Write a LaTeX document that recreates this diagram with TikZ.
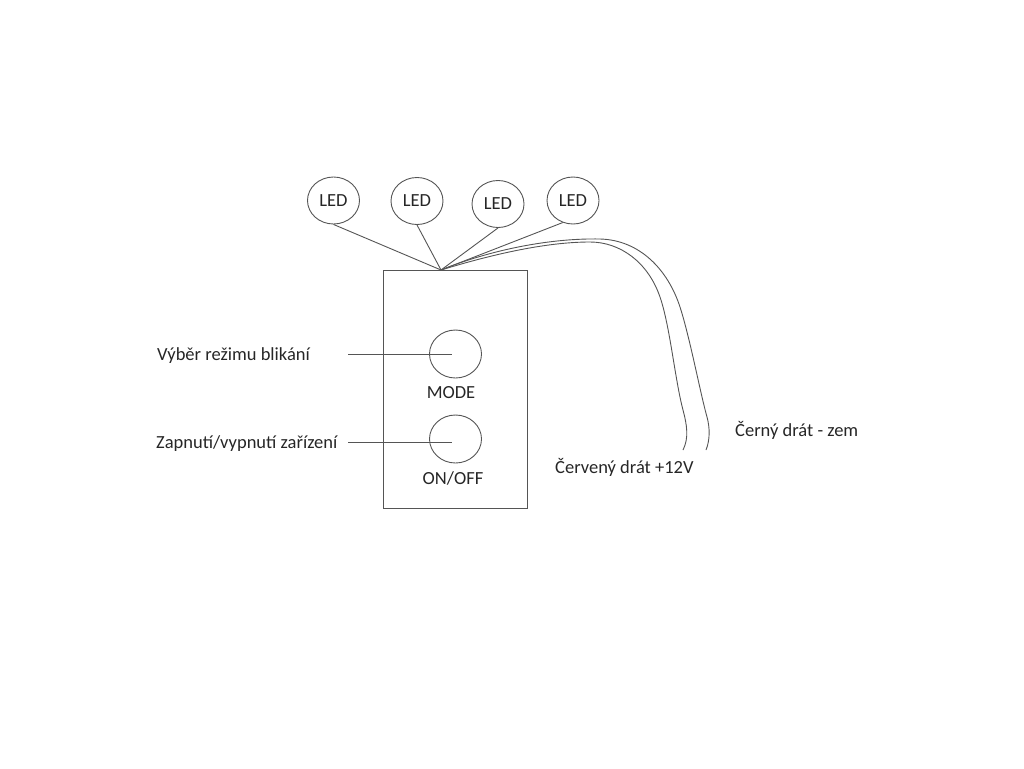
\documentclass[tikz,border=0pt]{standalone}
\usepackage{fontspec}
\setmainfont{Carlito}
\usetikzlibrary{shapes.geometric}
\definecolor{wire}{HTML}{555555}
\definecolor{ink}{HTML}{262626}
\tikzset{
  led/.style={ellipse, draw=wire, line width=0.9pt, inner sep=0pt, minimum width=52pt, minimum height=47pt, text=ink, font=\fontsize{18.5}{20}\selectfont},
  btn/.style={ellipse, draw=wire, line width=0.9pt, minimum width=52pt, minimum height=48pt},
  lbl/.style={text=ink, inner sep=0pt, font=\fontsize{18.5}{20}\selectfont},
  ln/.style={draw=wire, line width=0.9pt}
}
\begin{document}
\begin{tikzpicture}[x=1pt,y=-1pt]
\useasboundingbox (0,0) rectangle (1024,768);
\node[draw=wire, line width=0.9pt, minimum width=144pt, minimum height=238pt, inner sep=0pt] (box) at (455.5,389.5){};
\coordinate (hub) at (441,270);
\node[led] (led0) at (333.5,200.5){LED};
\node[led] (led1) at (417,201){LED};
\node[led] (led2) at (498,204){LED};
\node[led] (led3) at (573,200.5){LED};
\draw[ln](led0.south) -- (hub);
\draw[ln](led1.south) -- (hub);
\draw[ln](led2.south) -- (hub);
\draw[ln](led3.-115) -- (hub);
\node[btn] (btnmode) at (455.5,354){};
\node[btn] (btnon) at (455.5,439){};
\node[lbl] (txtmode) at (451,392.5){MODE};
\node[lbl] (txton) at (453,478.5){ON/OFF};
\node[lbl, anchor=west] (txtsel) at (157,356){Výběr režimu blikání};
\node[lbl, anchor=west] (txtpwr) at (156,444){Zapnutí/vypnutí zařízení};
\coordinate (selstart) at (348,354);
\coordinate (selend) at (451.5,354);
\coordinate (pwrstart) at (348,442.5);
\coordinate (pwrend) at (451.5,442.5);
\draw[ln](selstart) -- (selend);
\draw[ln](pwrstart) -- (pwrend);
\coordinate (redend) at (683,450);
\coordinate (blackend) at (706,450);
\draw[ln](hub) .. controls (490,255) and (545,242) .. (590,242) .. controls (620,242) and (648,262) .. (660,297) .. controls (670,326) and (675,380) .. (683,410) .. controls (687,425) and (689,438) .. (redend);
\draw[ln](hub) .. controls (490,250) and (550,238) .. (600,239) .. controls (640,240) and (668,270) .. (680,307) .. controls (690,338) and (700,392) .. (707,417) .. controls (710,428) and (710,440) .. (blackend);
\node[lbl, anchor=west] (txtred) at (555,467){Červený drát +12V};
\node[lbl, anchor=west] (txtblack) at (735,430){Černý drát - zem};
\end{tikzpicture}
\end{document}
